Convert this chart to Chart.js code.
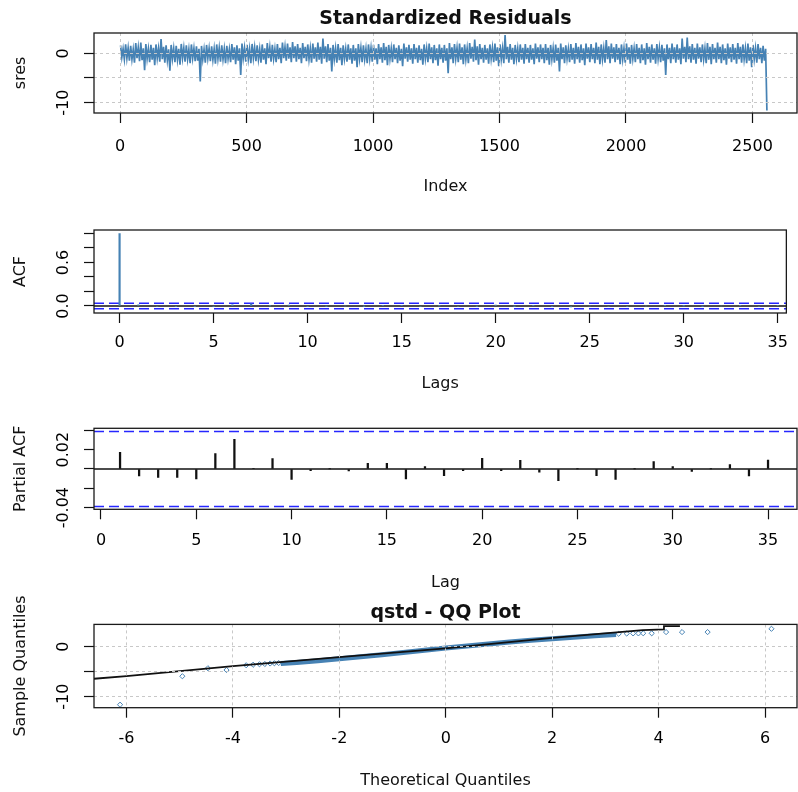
<!DOCTYPE html>
<html lang="en">
<head>
  <meta charset="UTF-8">
  <title>Standardized Residuals - diagnostics</title>
  <script src="https://cdn.jsdelivr.net/npm/chart.js"></script>
  <style>
    * { margin: 0; padding: 0; box-sizing: border-box; }
    body { width: 798px; height: 792px; background: #fff; position: relative; overflow: hidden; }
    canvas { position: absolute; left: 0; }
  </style>
</head>
<body>
  <canvas id="sresChart" width="798" height="200" style="top:0"></canvas>
  <canvas id="acfChart" width="798" height="200" style="top:200px"></canvas>
  <canvas id="pacfChart" width="798" height="200" style="top:400px"></canvas>
  <canvas id="qqChart" width="798" height="202" style="top:590px"></canvas>

  <script>
    // ---- data ----

    // standardized residuals (2560 obs), per block of 20 observations:
    // outer high / low swing and inner (core) high / low swing
    const resBlock = 20;
    const resHigh = [
      1.6, 1.8, 1.5, 2.1, 2.2, 1.9, 1.7, 1.8, 2.9, 1.6, 1.7, 1.5, 1.9, 1.6, 1.8, 1.4,
      1.5, 1.7, 1.4, 1.8, 1.6, 1.5, 1.9, 1.6, 2.0, 1.7, 1.9, 1.6, 1.8, 2.1, 1.7, 1.9,
      2.2, 2.0, 2.3, 1.9, 2.1, 1.8, 2.0, 2.2, 3.0, 1.9, 1.7, 1.9, 1.6, 1.8, 1.7, 1.9,
      1.6, 1.8, 1.7, 1.9, 2.1, 1.7, 1.8, 1.6, 2.0, 1.7, 1.9, 1.6, 1.8, 2.0, 1.7, 1.8,
      1.7, 2.1, 1.9, 2.0, 1.8, 2.1, 2.8, 1.9, 1.7, 1.8, 2.0, 1.8, 3.7, 1.9, 1.7, 1.8,
      1.9, 1.7, 2.0, 1.8, 1.9, 1.7, 1.8, 2.0, 1.6, 1.9, 2.1, 1.8, 2.0, 1.9, 2.2, 1.8,
      2.7, 2.0, 1.9, 1.8, 2.0, 1.7, 1.9, 1.8, 2.1, 1.8, 1.9, 1.7, 1.8, 2.0, 1.8, 3.0,
      3.2, 1.9, 2.0, 1.8, 2.1, 1.9, 2.2, 1.8, 2.0, 1.9, 2.1, 1.8, 2.0, 1.7, 1.9, 1.5
    ];
    const resLow = [
      -1.2, -1.5, -1.9, -1.6, -3.4, -1.8, -2.4, -1.7, -1.9, -3.5, -1.8, -2.3, -1.7, -2.0, -1.6, -5.7,
      -1.9, -1.6, -2.1, -1.7, -2.0, -1.8, -2.2, -4.4, -1.7, -2.0, -1.6, -1.9, -2.2, -1.7, -1.8, -2.0,
      -1.5, -1.8, -1.7, -2.0, -1.6, -1.9, -1.7, -2.1, -1.8, -3.7, -1.9, -2.4, -1.7, -2.1, -2.8, -1.8,
      -2.0, -1.7, -2.2, -1.9, -2.4, -1.8, -2.0, -2.6, -1.7, -2.1, -1.9, -2.3, -1.8, -2.0, -2.5, -1.9,
      -4.05, -2.0, -1.8, -2.2, -2.0, -1.7, -2.3, -1.9, -2.1, -1.8, -2.6, -2.0, -1.9, -2.2, -1.8, -2.1,
      -1.9, -2.2, -1.8, -2.0, -2.3, -1.9, -3.7, -2.0, -1.8, -2.1, -1.9, -2.4, -1.8, -2.0, -2.2, -1.9,
      -2.0, -1.8, -2.2, -1.9, -2.1, -1.8, -2.0, -2.3, -1.9, -2.1, -1.8, -4.4, -2.0, -1.9, -2.2, -1.8,
      -1.9, -2.1, -1.8, -2.0, -2.2, -1.9, -2.0, -2.3, -1.8, -2.1, -1.9, -2.0, -2.8, -1.9, -2.0, -11.6
    ];
    const resInHigh = [
      0.9, 1.1, 0.8, 1.2, 1.0, 0.9, 1.1, 1.0, 1.3, 0.8, 1.0, 0.9, 1.1, 0.8, 1.0, 0.9,
      0.8, 1.0, 0.9, 1.1, 0.9, 0.8, 1.2, 1.0, 1.1, 0.9, 1.2, 0.9, 1.0, 1.2, 0.9, 1.1,
      1.3, 1.2, 1.4, 1.1, 1.3, 1.0, 1.2, 1.3, 1.4, 1.1, 1.0, 1.1, 0.9, 1.0, 1.0, 1.1,
      0.9, 1.1, 1.0, 1.2, 1.3, 1.0, 1.1, 0.9, 1.2, 1.0, 1.1, 0.9, 1.0, 1.2, 1.0, 1.1,
      1.0, 1.2, 1.1, 1.2, 1.0, 1.3, 1.4, 1.1, 1.0, 1.1, 1.2, 1.0, 1.3, 1.1, 1.0, 1.1,
      1.1, 1.0, 1.2, 1.1, 1.1, 1.0, 1.1, 1.2, 0.9, 1.1, 1.3, 1.0, 1.2, 1.1, 1.3, 1.0,
      1.4, 1.2, 1.1, 1.0, 1.2, 1.0, 1.1, 1.0, 1.3, 1.0, 1.1, 1.0, 1.1, 1.2, 1.0, 1.3,
      1.4, 1.1, 1.2, 1.0, 1.3, 1.1, 1.3, 1.0, 1.2, 1.1, 1.3, 1.0, 1.2, 1.0, 1.1, 0.9
    ];
    const resInLow = [
      -0.8, -1.0, -1.2, -1.0, -1.4, -1.1, -1.3, -1.0, -1.2, -1.4, -1.1, -1.3, -1.0, -1.2, -1.0, -1.5,
      -1.2, -1.0, -1.3, -1.1, -1.2, -1.1, -1.3, -1.5, -1.0, -1.2, -1.0, -1.2, -1.3, -1.0, -1.1, -1.2,
      -1.0, -1.1, -1.0, -1.2, -1.0, -1.2, -1.1, -1.3, -1.1, -1.5, -1.2, -1.4, -1.1, -1.3, -1.5, -1.1,
      -1.2, -1.1, -1.3, -1.2, -1.4, -1.1, -1.2, -1.5, -1.1, -1.3, -1.2, -1.4, -1.1, -1.2, -1.4, -1.2,
      -1.5, -1.2, -1.1, -1.3, -1.2, -1.1, -1.4, -1.2, -1.3, -1.1, -1.5, -1.2, -1.2, -1.3, -1.1, -1.3,
      -1.2, -1.3, -1.1, -1.2, -1.4, -1.2, -1.5, -1.2, -1.1, -1.3, -1.2, -1.4, -1.1, -1.2, -1.3, -1.2,
      -1.2, -1.1, -1.3, -1.2, -1.3, -1.1, -1.2, -1.4, -1.2, -1.3, -1.1, -1.5, -1.2, -1.2, -1.3, -1.1,
      -1.2, -1.3, -1.1, -1.2, -1.3, -1.2, -1.2, -1.4, -1.1, -1.3, -1.2, -1.2, -1.5, -1.2, -1.2, -1.5
    ];
    const sresXTicks = [0, 500, 1000, 1500, 2000, 2500];
    const sresYTicks = [-10, -5, 0];
    const sresYLabels = ['-10', '', '0'];

    // ACF of residuals, lags 0..35
    const acfLags = [0, 1, 2, 3, 4, 5, 6, 7, 8, 9, 10, 11, 12, 13, 14, 15, 16, 17,
      18, 19, 20, 21, 22, 23, 24, 25, 26, 27, 28, 29, 30, 31, 32, 33, 34, 35];
    const acfValues = [1.0, 0.017, -0.007, -0.009, -0.008, -0.010, 0.016, 0.031, 0.001,
      0.011, -0.011, -0.002, 0.000, -0.002, 0.006, 0.006, -0.010, 0.002, -0.007, -0.002,
      0.011, -0.002, 0.009, -0.003, -0.012, 0.000, -0.007, -0.011, 0.000, 0.008, 0.002,
      -0.002, 0.000, 0.005, -0.007, 0.009];
    const acfXTicks = [0, 5, 10, 15, 20, 25, 30, 35];
    const acfYTicks = [0, 0.2, 0.4, 0.6, 0.8, 1.0];
    const acfYLabels = ['0.0', '', '', '0.6', '', ''];

    // PACF, lags 1..35
    const pacfLags = acfLags.slice(1);
    const pacfValues = [0.0172, -0.0072, -0.0086, -0.0086, -0.0103, 0.0159, 0.0307, 0.0003,
      0.0107, -0.0107, -0.0017, 0.0002, -0.0020, 0.0059, 0.0059, -0.0103, 0.0024, -0.0069,
      -0.0017, 0.0110, -0.0017, 0.0090, -0.0034, -0.0121, 0.0002, -0.0069, -0.0107, 0.0002,
      0.0076, 0.0024, -0.0024, 0.0002, 0.0045, -0.0072, 0.0093];
    const pacfXTicks = [0, 5, 10, 15, 20, 25, 30, 35];
    const pacfYTicks = [-0.04, -0.02, 0, 0.02, 0.04];
    const pacfYLabels = ['-0.04', '', '', '0.02', ''];
    const ciBound = 0.0388;

    // QQ plot (theoretical vs sample quantiles)
    const qqTailX = [-6.12, -4.95, -4.47, -4.12, -3.75, -3.62, -3.5, -3.4, -3.3, -3.22, -3.14,
      3.25, 3.4, 3.52, 3.62, 3.71, 3.87, 4.14, 4.44, 4.92, 6.12];
    const qqTailY = [-11.6, -5.9, -4.3, -4.65, -3.7, -3.6, -3.5, -3.45, -3.35, -3.3, -3.25,
      2.6, 2.65, 2.68, 2.68, 2.7, 2.7, 2.94, 2.94, 2.94, 3.6];
    const qqBodyX = [-3.1, -2.8, -2.4, -2.0, -1.6, -1.2, -0.8, -0.4, 0, 0.4, 0.8, 1.2, 1.6, 2.0, 2.4, 2.8, 3.2];
    const qqBodyY = [-3.35, -3.15, -2.8, -2.4, -2.0, -1.6, -1.15, -0.7, -0.25, 0.15, 0.55, 0.95, 1.3, 1.6, 1.9, 2.2, 2.45];
    const qqLineX = [-6.61, -6, -4, -2, 0, 2, 3.7, 4.1, 4.1, 4.4];
    const qqLineY = [-6.4, -5.86, -3.86, -2.06, -0.33, 1.8, 3.35, 3.5, 4.15, 4.15];
    const qqXTicks = [-6, -4, -2, 0, 2, 4, 6];
    const qqYTicks = [-10, -5, 0];
    const qqYLabels = ['-10', '', '0'];

    // ---- look ----
    const FONT = '"DejaVu Sans", sans-serif';
    const steel = '#4682b4';
    Chart.defaults.font.family = FONT;
    Chart.defaults.font.size = 16;
    Chart.defaults.color = '#000';
    Chart.defaults.animation = false;
    Chart.defaults.events = [];
    Chart.defaults.plugins.legend.display = false;
    Chart.defaults.plugins.tooltip.enabled = false;

    // R draws a full box round the plot region
    const frame = {
      id: 'frame',
      afterDraw(chart) {
        const a = chart.chartArea, ctx = chart.ctx;
        ctx.save();
        ctx.strokeStyle = '#1a1a1a';
        ctx.lineWidth = 1.3;
        ctx.strokeRect(a.left, a.top, a.right - a.left, a.bottom - a.top);
        ctx.restore();
      }
    };

    const measureCtx = document.createElement('canvas').getContext('2d');
    function yLabelPad(labels) {
      measureCtx.font = '16px ' + FONT;
      const w = Math.max(...labels.map(s => measureCtx.measureText(s).width));
      return 94 - 10 - 63.5 - w / 2;
    }

    function xAxis(o) {
      return {
        type: 'linear', min: o.min, max: o.max, bounds: 'data', offset: false,
        afterBuildTicks: s => { s.ticks = o.ticks.map(v => ({ value: v })); },
        afterFit: s => { s.height = o.height; },
        ticks: { padding: o.pad, maxRotation: 0, minRotation: 0, autoSkip: false, callback: v => String(v) },
        grid: {
          drawOnChartArea: !!o.grid, color: '#c8c8c8', lineWidth: 1, z: 1, offset: false,
          drawTicks: true, tickLength: 10, tickColor: '#111', tickWidth: 1.2, tickBorderDash: []
        },
        border: { display: false, dash: [3, 3] },
        title: { display: true, text: o.title, color: '#111', padding: { top: 0, bottom: o.titlePad } }
      };
    }

    function yAxis(o) {
      return {
        type: 'linear', min: o.min, max: o.max, bounds: 'data',
        afterBuildTicks: s => { s.ticks = o.ticks.map(v => ({ value: v })); },
        afterFit: s => { s.width = 94; },
        ticks: {
          padding: yLabelPad(o.labels), minRotation: 90, maxRotation: 90, crossAlign: 'center',
          autoSkip: false, callback: (v, i) => o.labels[i]
        },
        grid: {
          drawOnChartArea: !!o.grid, color: '#c8c8c8', lineWidth: 1, z: 1,
          drawTicks: true, tickLength: 10, tickColor: '#111', tickWidth: 1.2, tickBorderDash: []
        },
        border: { display: false, dash: [3, 3] },
        title: { display: true, text: o.title, color: '#111', padding: { top: 10.9, bottom: 0 } }
      };
    }

    function hLine(xmin, xmax, y, color, width, dash) {
      return {
        type: 'line', data: [{ x: xmin, y: y }, { x: xmax, y: y }],
        borderColor: color, borderWidth: width, borderDash: dash || [], pointRadius: 0, order: 2
      };
    }

    // ---- 1. standardized residuals ----
    const sresPoints = [];
    resHigh.forEach((hi, k) => {
      const x0 = k * resBlock;
      sresPoints.push({ x: x0 + 2, y: hi });
      sresPoints.push({ x: x0 + 7, y: resInLow[k] });
      sresPoints.push({ x: x0 + 12, y: resInHigh[k] });
      sresPoints.push({ x: x0 + 17, y: resLow[k] });
    });

    new Chart(document.getElementById('sresChart'), {
      type: 'line',
      data: {
        datasets: [{
          data: sresPoints, borderColor: steel, borderWidth: 1.7,
          pointRadius: 0, tension: 0
        }]
      },
      options: {
        responsive: false,
        layout: { autoPadding: false, padding: { top: 0, right: 1, bottom: 0, left: 0 } },
        plugins: {
          title: {
            display: true, text: 'Standardized Residuals', fullSize: false, color: '#111',
            font: { size: 19, weight: 'bold' }, padding: { top: 7.6, bottom: 2.6 }
          }
        },
        scales: {
          x: xAxis({ min: -103, max: 2676, ticks: sresXTicks, height: 87, pad: 14.4, grid: true, title: 'Index', titlePad: 3.4 }),
          y: yAxis({ min: -12.1, max: 4.12, ticks: sresYTicks, labels: sresYLabels, grid: true, title: 'sres' })
        }
      },
      plugins: [frame]
    });

    // ---- 2. ACF ----
    const acfMin = -1.36, acfMax = 35.46;
    new Chart(document.getElementById('acfChart'), {
      type: 'bar',
      data: {
        datasets: [
          {
            data: acfLags.map((l, i) => ({ x: l, y: acfValues[i] })),
            backgroundColor: steel, barThickness: 1.5, order: 1
          },
          hLine(acfMin, acfMax, 0, '#111', 1.3),
          hLine(acfMin, acfMax, ciBound, '#2626ff', 1.6, [10, 5]),
          hLine(acfMin, acfMax, -ciBound, '#2626ff', 1.6, [10, 5])
        ]
      },
      options: {
        responsive: false,
        layout: { autoPadding: false, padding: { top: 30, right: 1, bottom: 0, left: 0 } },
        scales: {
          x: xAxis({ min: acfMin, max: acfMax, ticks: acfXTicks, height: 87, pad: 10.1, title: 'Lags', titlePad: 6.4 }),
          y: yAxis({ min: -0.0966, max: 1.048, ticks: acfYTicks, labels: acfYLabels, title: 'ACF' })
        }
      },
      plugins: [frame]
    });

    // ---- 3. PACF ----
    const pacfMin = -0.367, pacfMax = 36.52;
    new Chart(document.getElementById('pacfChart'), {
      type: 'bar',
      data: {
        datasets: [
          {
            data: pacfLags.map((l, i) => ({ x: l, y: pacfValues[i] })),
            backgroundColor: '#111', barThickness: 1.6, order: 1
          },
          hLine(pacfMin, pacfMax, 0, '#111', 1.3),
          hLine(pacfMin, pacfMax, ciBound, '#2626ff', 1.6, [10, 5]),
          hLine(pacfMin, pacfMax, -ciBound, '#2626ff', 1.6, [10, 5])
        ]
      },
      options: {
        responsive: false,
        layout: { autoPadding: false, padding: { top: 28.3, right: 1, bottom: 0, left: 0 } },
        scales: {
          x: xAxis({ min: pacfMin, max: pacfMax, ticks: pacfXTicks, height: 90.7, pad: 12.1, title: 'Lag', titlePad: 7.9 }),
          y: yAxis({ min: -0.0417, max: 0.0421, ticks: pacfYTicks, labels: pacfYLabels, title: 'Partial ACF' })
        }
      },
      plugins: [frame]
    });

    // ---- 4. QQ plot ----
    new Chart(document.getElementById('qqChart'), {
      type: 'scatter',
      data: {
        datasets: [
          {
            data: qqLineX.map((x, i) => ({ x: x, y: qqLineY[i] })),
            showLine: true, borderColor: '#111', borderWidth: 1.8, pointRadius: 0
          },
          {
            data: qqBodyX.map((x, i) => ({ x: x, y: qqBodyY[i] })),
            showLine: true, borderColor: steel, borderWidth: 5, pointRadius: 0
          },
          {
            data: qqTailX.map((x, i) => ({ x: x, y: qqTailY[i] })),
            pointStyle: 'rectRot', pointRadius: 2.6, borderWidth: 1,
            borderColor: steel, backgroundColor: 'rgba(255,255,255,0.6)'
          }
        ]
      },
      options: {
        responsive: false,
        layout: { autoPadding: false, padding: { top: 0, right: 1, bottom: 0, left: 0 } },
        plugins: {
          title: {
            display: true, text: 'qstd - QQ Plot', fullSize: false, color: '#111',
            font: { size: 19, weight: 'bold' }, padding: { top: 11.6, bottom: 0 }
          }
        },
        scales: {
          x: xAxis({ min: -6.61, max: 6.60, ticks: qqXTicks, height: 84.3, pad: 12, grid: true, title: 'Theoretical Quantiles', titlePad: 1.4 }),
          y: yAxis({ min: -12.2, max: 4.48, ticks: qqYTicks, labels: qqYLabels, grid: true, title: 'Sample Quantiles' })
        }
      },
      plugins: [frame]
    });
  </script>
</body>
</html>
